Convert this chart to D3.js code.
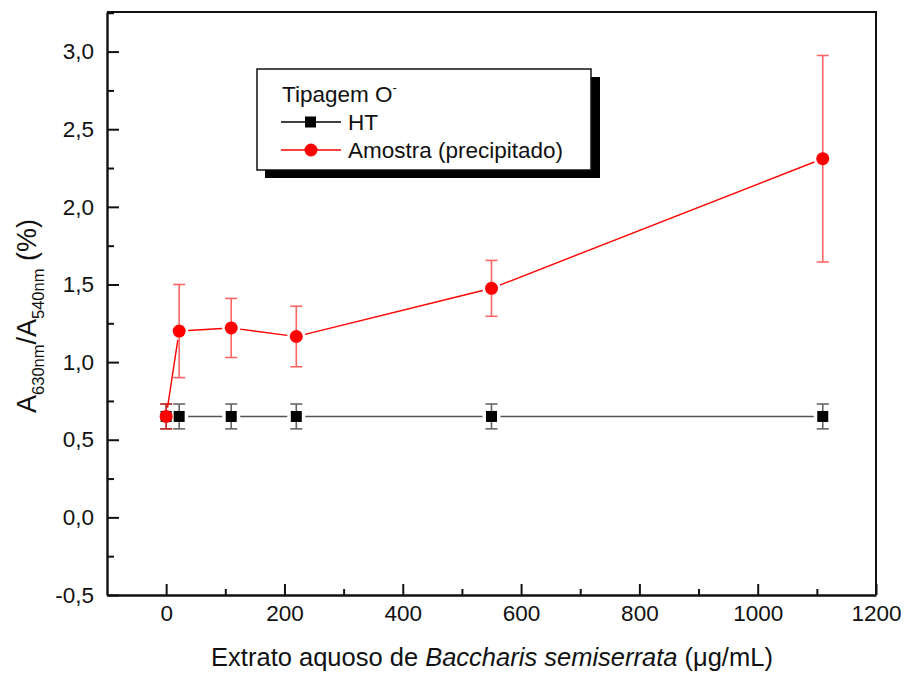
<!DOCTYPE html>
<html><head><meta charset="utf-8">
<script src="https://cdn.jsdelivr.net/npm/d3@7"></script>
<style>body{margin:0;background:#fff} text{font-family:"Liberation Sans",Arial,Helvetica,sans-serif}</style>
</head><body><svg id="c" width="904" height="673"></svg>
<script>
const concentrations = [0, 22, 110, 220, 550, 1110];
const htValues = [0.65, 0.65, 0.65, 0.65, 0.65, 0.65];
const htErrors = [0.08, 0.08, 0.08, 0.08, 0.08, 0.08];
const amostraValues = [0.65, 1.20, 1.22, 1.165, 1.475, 2.31];
const amostraErrors = [0.08, 0.30, 0.19, 0.195, 0.18, 0.665];
const yTickValues = [-0.5, 0, 0.5, 1.0, 1.5, 2.0, 2.5, 3.0];
const yTickLabels = ["-0,5", "0,0", "0,5", "1,0", "1,5", "2,0", "2,5", "3,0"];
const yMinorTicks = [-0.25, 0.25, 0.75, 1.25, 1.75, 2.25, 2.75, 3.25];
const xTickValues = [0, 200, 400, 600, 800, 1000, 1200];
const xTickLabels = ["0", "200", "400", "600", "800", "1000", "1200"];
const xMinorTicks = [100, 300, 500, 700, 900, 1100];
const seriesNames = ["HT", "Amostra (precipitado)"];
const legendTitle = "Tipagem O";

const svg = d3.select("#c");
const L = 107, R = 876, T = 12, B = 595;
const x = d3.scaleLinear().domain([-100, 1200]).range([L, R]);
const y = d3.scaleLinear().domain([-0.5, 3.255]).range([B, T]);

// frame top/right
svg.append("path").attr("d", `M${L},${T}H${R}V${B}`).attr("fill", "none").attr("stroke", "#111").attr("stroke-width", 2);

// Y axis
svg.append("g").attr("transform", `translate(${L},0)`)
  .call(d3.axisLeft(y).tickValues(yTickValues).tickFormat((d, i) => yTickLabels[i]).tickSizeInner(-12).tickSizeOuter(0).tickPadding(13));
const yMin = svg.append("g").attr("transform", `translate(${L},0)`)
  .call(d3.axisLeft(y).tickValues(yMinorTicks).tickFormat("").tickSizeInner(-7).tickSizeOuter(0));
yMin.select(".domain").remove();
// X axis
svg.append("g").attr("transform", `translate(0,${B})`)
  .call(d3.axisBottom(x).tickValues(xTickValues).tickFormat((d, i) => xTickLabels[i]).tickSizeInner(-11).tickSizeOuter(0).tickPadding(10));
const xMin = svg.append("g").attr("transform", `translate(0,${B})`)
  .call(d3.axisBottom(x).tickValues(xMinorTicks).tickFormat("").tickSizeInner(-6).tickSizeOuter(0));
xMin.select(".domain").remove();
svg.selectAll(".domain").attr("stroke", "#111").attr("stroke-width", 2.4);
svg.selectAll(".tick line").attr("stroke", "#111").attr("stroke-width", 2);
svg.selectAll(".tick text").attr("font-size", 22.5).attr("fill", "#111").attr("font-family", "Liberation Sans, Arial, sans-serif");

// axis titles
const xt = svg.append("text").attr("x", 492).attr("y", 666).attr("text-anchor", "middle")
  .attr("font-size", 25.5).attr("fill", "#111");
xt.append("tspan").text("Extrato aquoso de ");
xt.append("tspan").attr("font-style", "italic").text("Baccharis semiserrata");
xt.append("tspan").text(" (\u03BCg/mL)");

const yt = svg.append("text").attr("transform", "translate(36,316) rotate(-90)").attr("text-anchor", "middle")
  .attr("font-size", 27).attr("fill", "#111");
yt.append("tspan").text("A");
yt.append("tspan").attr("font-size", 16.5).attr("dy", 8).text("630nm");
yt.append("tspan").attr("dy", -8).text("/A");
yt.append("tspan").attr("font-size", 16.5).attr("dy", 8).text("540nm");
yt.append("tspan").attr("dy", -8).text(" (%)");

// data
const gap = 9;
function gappedSegments(xs, ys) {
  const segs = [];
  for (let i = 0; i < xs.length - 1; i++) {
    const x1 = x(xs[i]), y1 = y(ys[i]), x2 = x(xs[i + 1]), y2 = y(ys[i + 1]);
    const dx = x2 - x1, dy = y2 - y1, len = Math.hypot(dx, dy);
    if (len <= 2 * gap) continue;
    const ux = dx / len, uy = dy / len;
    segs.push([[x1 + ux * gap, y1 + uy * gap], [x2 - ux * gap, y2 - uy * gap]]);
  }
  return segs;
}
function drawSeries(vals, errs, color, lineColor, errColor, marker) {
  const g = svg.append("g");
  g.selectAll("line.seg").data(gappedSegments(concentrations, vals)).join("line")
    .attr("x1", d => d[0][0]).attr("y1", d => d[0][1]).attr("x2", d => d[1][0]).attr("y2", d => d[1][1])
    .attr("stroke", lineColor).attr("stroke-width", 1.4);
  const pts = concentrations.map((c, i) => ({ c, v: vals[i], e: errs[i] }));
  const eg = g.append("g").attr("stroke", errColor).attr("stroke-width", 1.6).attr("opacity", 0.6);
  pts.forEach(p => {
    eg.append("line").attr("x1", x(p.c)).attr("x2", x(p.c)).attr("y1", y(p.v - p.e)).attr("y2", y(p.v + p.e));
    eg.append("line").attr("x1", x(p.c) - 6).attr("x2", x(p.c) + 6).attr("y1", y(p.v + p.e)).attr("y2", y(p.v + p.e));
    eg.append("line").attr("x1", x(p.c) - 6).attr("x2", x(p.c) + 6).attr("y1", y(p.v - p.e)).attr("y2", y(p.v - p.e));
  });
  if (marker === "square") {
    g.selectAll("rect.m").data(pts).join("rect").attr("x", d => x(d.c) - 5.5).attr("y", d => y(d.v) - 5.5)
      .attr("width", 11).attr("height", 11).attr("fill", color);
  } else {
    g.selectAll("circle.m").data(pts).join("circle").attr("cx", d => x(d.c)).attr("cy", d => y(d.v))
      .attr("r", 6.5).attr("fill", color);
  }
}
drawSeries(htValues, htErrors, "#000", "#555", "#000", "square");
drawSeries(amostraValues, amostraErrors, "#ff0000", "#ff0000", "#ff0000", "circle");

// legend
const lg = svg.append("g");
lg.append("rect").attr("x", 265).attr("y", 77).attr("width", 335).attr("height", 101).attr("fill", "#000");
lg.append("rect").attr("x", 257).attr("y", 69).attr("width", 334).attr("height", 101).attr("fill", "#fff").attr("stroke", "#111").attr("stroke-width", 1.5);
const lt = lg.append("text").attr("x", 282).attr("y", 102).attr("font-size", 22.5).attr("fill", "#111");
lt.append("tspan").text(legendTitle);
lt.append("tspan").attr("font-size", 13).attr("dy", -10).text("-");
const legendItems = [
  { name: seriesNames[0], color: "#000", marker: "square", yy: 122 },
  { name: seriesNames[1], color: "#ff0000", marker: "circle", yy: 150 }
];
legendItems.forEach(it => {
  lg.append("line").attr("x1", 281).attr("x2", 341).attr("y1", it.yy).attr("y2", it.yy).attr("stroke", it.color).attr("stroke-width", 1.3);
  if (it.marker === "square") lg.append("rect").attr("x", 305).attr("y", it.yy - 5.5).attr("width", 11).attr("height", 11).attr("fill", it.color);
  else lg.append("circle").attr("cx", 311).attr("cy", it.yy).attr("r", 6.5).attr("fill", it.color);
  lg.append("text").attr("x", 348).attr("y", it.yy + 8).attr("font-size", 22.5).attr("fill", "#111").text(it.name);
});
</script></body></html>
